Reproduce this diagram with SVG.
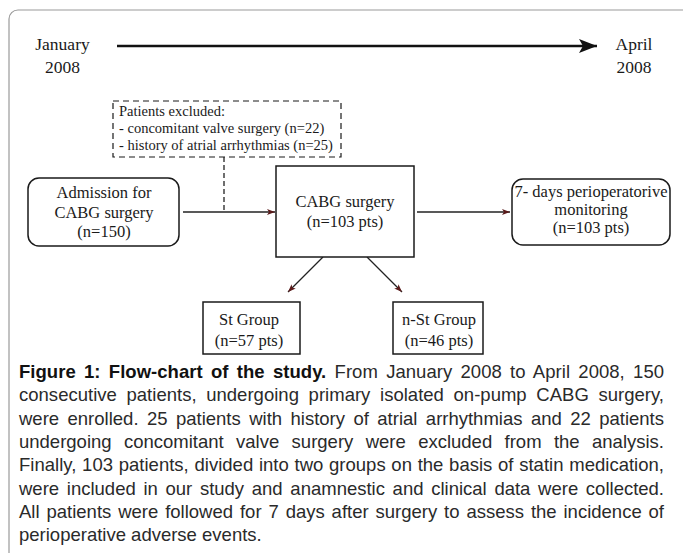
<svg xmlns="http://www.w3.org/2000/svg" width="683" height="553" viewBox="0 0 683 553">
<style>
.node{fill:#fff;stroke:#1a1a1a;stroke-width:1.5}
.t{font-family:"Liberation Serif","Times New Roman",serif;fill:#1a1a1a;text-anchor:middle}
.tl{font-family:"Liberation Serif","Times New Roman",serif;fill:#1a1a1a;font-size:17.5px;text-anchor:middle}
.ex{font-family:"Liberation Serif","Times New Roman",serif;fill:#1a1a1a;font-size:14.5px}
.conn{fill:none;stroke:#222;stroke-width:1.3}
.cap{font-family:"Liberation Sans",Arial,sans-serif;font-size:18.5px;fill:#2a2a2a}
</style>
<defs>
<marker id="ah" markerUnits="userSpaceOnUse" markerWidth="10" markerHeight="8" refX="8" refY="3" orient="auto">
<path d="M0,0 L8,3 L0,6 L2,3 z" fill="#5a1a1a"/>
</marker>
<marker id="big" markerUnits="userSpaceOnUse" markerWidth="20" markerHeight="16" refX="18" refY="7" orient="auto">
<path d="M0,0 L18,7 L0,14 L4,7 z" fill="#111"/>
</marker>
</defs>
<rect x="9" y="10" width="720" height="620" rx="9" fill="#fff" stroke="#9a9a9a" stroke-width="1.2"/>
<g id="timeline">
<text class="tl" x="62.5" y="50">January</text>
<text class="tl" x="62.5" y="73">2008</text>
<text class="tl" x="634" y="50">April</text>
<text class="tl" x="634" y="73">2008</text>
<line x1="117" y1="46" x2="597" y2="46" stroke="#111" stroke-width="2.6" marker-end="url(#big)"/>
</g>
<g id="connectors">
<path class="conn" d="M183,212 H275" marker-end="url(#ah)"/>
<path class="conn" d="M224,157 V212" stroke-dasharray="5,3"/>
<path class="conn" d="M417,212 H510" marker-end="url(#ah)"/>
<path class="conn" d="M323,257 L288,292" marker-end="url(#ah)"/>
<path class="conn" d="M367,257 L402,292" marker-end="url(#ah)"/>
</g>
<g id="excluded">
<rect x="113" y="101" width="228" height="56" fill="#fff" stroke="#1a1a1a" stroke-width="1.2" stroke-dasharray="6,4"/>
<text class="ex" x="119" y="116">Patients excluded:</text>
<text class="ex" x="119" y="133">- concomitant valve surgery (n=22)</text>
<text class="ex" x="119" y="150">- history of atrial arrhythmias (n=25)</text>
</g>
<g id="admission">
<rect class="node" x="28" y="178" width="151" height="68" rx="11"/>
<text class="t" font-size="16.5" x="104" y="198">Admission for</text>
<text class="t" font-size="16.5" x="104" y="218">CABG surgery</text>
<text class="t" font-size="16.5" x="104" y="237">(n=150)</text>
</g>
<g id="cabg">
<rect class="node" x="276" y="166" width="138" height="91"/>
<text class="t" font-size="16.5" x="345" y="207">CABG surgery</text>
<text class="t" font-size="16.5" x="345" y="227">(n=103 pts)</text>
</g>
<g id="monitoring">
<rect class="node" x="512" y="179" width="158" height="66" rx="11"/>
<text class="t" font-size="16.5" x="591" y="197">7- days perioperatorive</text>
<text class="t" font-size="16.5" x="591" y="215">monitoring</text>
<text class="t" font-size="16.5" x="591" y="233">(n=103 pts)</text>
</g>
<g id="st">
<rect class="node" x="203" y="302" width="97" height="52"/>
<text class="t" font-size="16.5" x="249" y="325">St Group</text>
<text class="t" font-size="16.5" x="249" y="346">(n=57 pts)</text>
</g>
<g id="nst">
<rect class="node" x="393" y="302" width="90" height="52"/>
<text class="t" font-size="16.5" x="439" y="325">n-St Group</text>
<text class="t" font-size="16.5" x="439" y="346">(n=46 pts)</text>
</g>
<g id="caption">
<text class="cap" x="19" y="378" word-spacing="3.1" textLength="645" lengthAdjust="spacing"><tspan font-weight="bold" fill="#111">Figure 1: Flow-chart of the study.</tspan> From January 2008 to April 2008, 150</text>
<text class="cap" x="19" y="401.3" word-spacing="4.46" textLength="645" lengthAdjust="spacing">consecutive patients, undergoing primary isolated on-pump CABG surgery,</text>
<text class="cap" x="19" y="424.6" word-spacing="3.3" textLength="645" lengthAdjust="spacing">were enrolled. 25 patients with history of atrial arrhythmias and 22 patients</text>
<text class="cap" x="19" y="447.9" word-spacing="7.24" textLength="645" lengthAdjust="spacing">undergoing concomitant valve surgery were excluded from the analysis.</text>
<text class="cap" x="19" y="471.2" word-spacing="0.53" textLength="645" lengthAdjust="spacing">Finally, 103 patients, divided into two groups on the basis of statin medication,</text>
<text class="cap" x="19" y="494.5" word-spacing="2.55" textLength="645" lengthAdjust="spacing">were included in our study and anamnestic and clinical data were collected.</text>
<text class="cap" x="19" y="517.8" word-spacing="1.76" textLength="645" lengthAdjust="spacing">All patients were followed for 7 days after surgery to assess the incidence of</text>
<text class="cap" x="19" y="541">perioperative adverse events.</text>
</g>
</svg>
